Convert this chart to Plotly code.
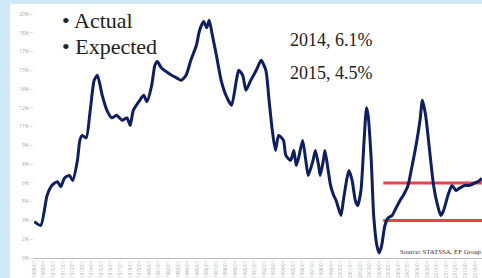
import plotly.graph_objects as go

# ---- data ----
dates = ["1968-01","1968-09","1969-05","1969-11","1970-06","1970-10","1971-03","1971-09",
         "1972-01","1972-07","1972-10","1973-01","1973-06","1973-11","1974-04","1974-08",
         "1975-02","1975-08","1976-02","1976-08","1977-03","1977-09","1978-01","1978-05",
         "1979-01","1979-06","1979-10","1980-04","1980-08","1980-11","1981-04","1981-10",
         "1982-05","1982-11","1983-05","1983-11","1984-05","1984-12","1985-04","1985-09",
         "1986-01","1986-04","1986-08","1987-01","1987-07","1988-01","1988-08","1989-02",
         "1989-05","1989-10","1990-02","1990-08","1991-03","1991-09","1992-03","1992-07",
         "1992-11","1993-03","1993-07","1994-01","1994-04","1994-10","1995-02","1995-05",
         "1995-08","1996-01","1996-05","1996-08","1997-02","1997-05","1997-09","1997-11",
         "1998-03","1998-05","1998-09","1998-12","1999-04","1999-07","2000-01","2000-04",
         "2000-08","2000-11","2001-03","2001-07","2001-10","2002-02","2002-06","2002-09",
         "2002-11","2003-03","2003-06","2003-10","2004-01","2004-04","2004-08","2004-12",
         "2005-05","2005-10","2006-03","2006-07","2007-01","2007-05","2007-11","2008-04",
         "2008-07","2008-11","2009-04","2009-09","2010-02","2010-06","2010-09","2011-03",
         "2011-08","2012-01","2012-06","2012-12","2013-06","2014-01","2014-07","2014-09"]
cpi = [2.9,2.6,5.0,5.8,6.1,5.7,6.4,6.6,
       6.2,7.8,9.4,9.8,9.6,11.8,14.2,14.6,
       13.0,11.8,11.2,11.4,11.0,11.2,10.6,11.8,
       12.6,13.0,12.5,13.8,15.4,15.7,15.2,14.9,
       14.6,14.4,14.2,14.6,15.8,17.0,18.2,18.9,
       18.4,19.0,17.8,16.2,14.2,13.0,12.2,14.2,
       15.0,14.6,13.4,14.2,15.0,15.8,15.0,12.6,
       10.2,8.6,9.8,9.4,8.2,7.8,8.6,7.4,
       8.0,9.4,7.8,6.6,7.8,8.6,7.4,6.6,
       7.8,8.6,7.0,5.8,5.0,4.6,3.4,4.6,
       6.2,7.0,6.2,4.6,4.2,5.4,9.4,12.0,
       11.4,7.8,3.4,1.0,0.4,1.0,2.6,3.2,
       3.4,4.0,4.6,5.0,5.8,7.0,9.0,11.0,
       12.6,11.4,8.6,5.8,4.2,3.4,3.7,5.0,
       5.8,5.4,5.6,5.8,5.8,6.0,6.2,6.4]

band_dates = ["2004-06", "2014-12"]
band_upper = 6.0
band_lower = 3.0

y_tickvals = [0, 1.5, 3, 4.5, 6, 7.5, 9, 10.5, 12, 13.5, 15, 16.5, 18, 19.5]
y_ticktext = ["0%","2%","3%","5%","6%","8%","9%","11%","12%","14%","15%","17%","18%","20%"]

legend_items = ["• Actual", "• Expected"]
value_notes = ["2014, 6.1%", "2015, 4.5%"]
source_text = "Source: STATSSA, EF Group"

W, H = 482, 278
L, R, T, B = 34, 0, 14, 20
pw, ph = W - L - R, H - T - B

fig = go.Figure()
red = "#e8404c"
for v in (band_upper, band_lower):
    fig.add_trace(go.Scatter(x=band_dates, y=[v, v], mode="lines",
                             line=dict(color=red, width=3), hoverinfo="skip"))
fig.add_trace(go.Scatter(x=dates, y=cpi, mode="lines",
                         line=dict(color="#0f1f5e", width=3, shape="spline", smoothing=0.6)))

# white page area over light blue frame
fig.add_shape(type="rect", xref="paper", yref="paper", layer="below",
              x0=(10 - L) / pw, x1=1 + 20 / pw, y0=-(B + 10) / ph, y1=1 + (T - 4) / ph,
              fillcolor="white", line=dict(width=0))

serif = "Liberation Serif, DejaVu Serif, serif"
for i, t in enumerate(legend_items):
    fig.add_annotation(xref="paper", yref="paper", x=(60 - L) / pw, y=1 - (20 + 27 * i - T) / ph,
                       text=t, showarrow=False, xanchor="left", yanchor="middle",
                       font=dict(family=serif, size=22, color="#222"))
for i, t in enumerate(value_notes):
    fig.add_annotation(xref="paper", yref="paper", x=(331 - L) / pw, y=1 - (40 + 33 * i - T) / ph,
                       text=t, showarrow=False, xanchor="center", yanchor="middle",
                       font=dict(family=serif, size=18, color="#222"))
fig.add_annotation(xref="paper", yref="paper", x=(398 - L) / pw, y=1 - (251 - T) / ph,
                   text=source_text, showarrow=False, xanchor="left", yanchor="middle",
                   font=dict(family=serif, size=6.8, color="#333"))

fig.update_layout(
    width=W, height=H, margin=dict(l=L, r=R, t=T, b=B, autoexpand=False),
    paper_bgcolor="#cfe9f6", plot_bgcolor="white", showlegend=False,
    xaxis=dict(range=["1967-12-20", "2014-09-20"], dtick="M12", tick0="1968-01-01",
               tickformat="%Y/%m", tickangle=-90, tickfont=dict(size=4.5, color="#aaa"),
               showgrid=False, zeroline=False, showline=True, linecolor="#bbb", linewidth=1,
               ticks="", ticklen=0, automargin=False),
    yaxis=dict(range=[0, 19.5], tickvals=y_tickvals, ticktext=y_ticktext,
               tickfont=dict(size=5, color="#aaa"), showgrid=False, zeroline=False,
               showline=False, ticks="outside", ticklen=3, tickcolor="#ddd", automargin=False),
)
fig.write_html("out.html", config={"displayModeBar": False},
               post_script="document.body.style.margin='0';document.body.style.overflow='hidden';")
